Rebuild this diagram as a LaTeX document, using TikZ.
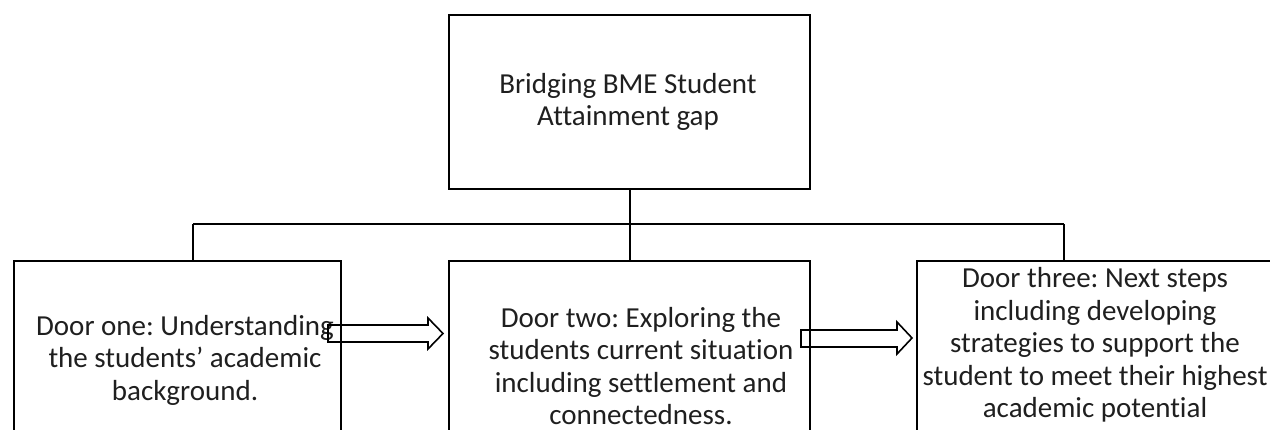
\documentclass[tikz,border=0pt]{standalone}
\usepackage{fontspec}
\setmainfont{Carlito}[Ligatures={NoCommon}]
\begin{document}
\frenchspacing
\begin{tikzpicture}[x=1pt,y=-1pt,
  boxstyle/.style={draw=black,line width=2pt,inner sep=0pt,anchor=north west},
  txt/.style={align=center,font=\fontsize{29}{32.5}\selectfont\frenchspacing,text=black!88,inner sep=0pt},
  wire/.style={draw=black,line width=2pt},
  blockarrow/.style={draw=black,line width=1.6pt,line join=miter}]
\useasboundingbox (0,0) rectangle (1270,430);
\clip (0,0) rectangle (1270,430);
% boxes
\node[boxstyle,minimum width=361pt,minimum height=174pt] (top) at (448,14) {};
\node[boxstyle,minimum width=327pt,minimum height=220pt] (left) at (13,260) {};
\node[boxstyle,minimum width=361pt,minimum height=220pt] (mid) at (448,260) {};
\node[boxstyle,minimum width=361pt,minimum height=220pt] (right) at (916,260) {};
% texts
\node[txt] (ttop) at (628,102) {Bridging BME Student\\Attainment gap};
\node[txt] (tleft) at (185,360) {Door one: Understanding\\the students’ academic\\background.};
\node[txt] (tmid) at (641,366) {Door two: Exploring the\\students current situation\\including settlement and\\connectedness.};
\node[txt] (tright) at (1095,345) {Door three: Next steps\\including developing\\strategies to support the\\student to meet their highest\\academic potential};
% connectors
\coordinate (bL) at (193,224);
\coordinate (bR) at (1064,224);
\draw[wire] (top.south) -- (top.south |- mid.north);
\draw[wire] (bL) -- (bR);
\draw[wire] (bL) -- (bL |- left.north);
\draw[wire] (bR) -- (bR |- right.north);
% block arrows
\draw[blockarrow] (328,325) -- (428,325) -- (428,318) -- (443,333.5) -- (428,349) -- (428,342) -- (328,342) -- cycle;
\draw[blockarrow] (801,330) -- (897,330) -- (897,322) -- (912,338) -- (897,354) -- (897,347) -- (801,347) -- cycle;
\end{tikzpicture}
\end{document}
